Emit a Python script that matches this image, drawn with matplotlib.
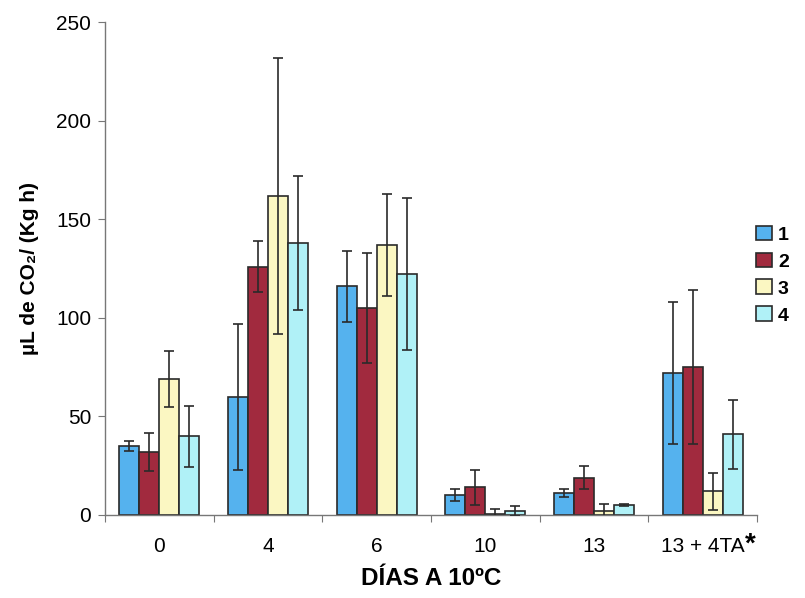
import matplotlib
matplotlib.use("Agg")
import matplotlib.pyplot as plt
import numpy as np

plt.rcParams["font.family"] = ["Liberation Sans", "DejaVu Sans"]

categories = ["0", "4", "6", "10", "13", "13 + 4TA"]
series_names = ["1", "2", "3", "4"]

means_1 = [35, 60, 116, 10, 11, 72]
means_2 = [32, 126, 105, 14, 19, 75]
means_3 = [69, 162, 137, 0.5, 2, 12]
means_4 = [40, 138, 122, 2, 5, 41]

err_1 = [2.5, 37, 18, 3, 2, 36]
err_2 = [9.5, 13, 28, 9, 6, 39]
err_3 = [14, 70, 26, 2.5, 3.5, 9.5]
err_4 = [15.5, 34, 38.5, 2.5, 0.5, 17.5]

colors = ["#55b2ee", "#a12a3e", "#fbf7c2", "#b0f1f7"]

means = [means_1, means_2, means_3, means_4]
errs = [err_1, err_2, err_3, err_4]

fig = plt.figure(figsize=(8.05, 5.98), dpi=100)
ax = fig.add_axes((0.1304, 0.1388, 0.81, 0.8244))

x = np.arange(len(categories))
width = 0.184
offsets = (np.arange(4) - 1.5) * width

for i in range(4):
    ax.bar(
        x + offsets[i],
        means[i],
        width,
        color=colors[i],
        edgecolor="#2a2a2a",
        linewidth=1.2,
        label=series_names[i],
        zorder=2,
    )
    ax.errorbar(
        x + offsets[i],
        means[i],
        yerr=errs[i],
        fmt="none",
        ecolor="#2a2a2a",
        elinewidth=1.2,
        capsize=3.5,
        capthick=1.2,
        zorder=3,
    )

ax.set_xlim(-0.5, len(categories) - 0.5)
ax.set_ylim(0, 250)
ax.set_yticks([0, 50, 100, 150, 200, 250])

# ticks at group boundaries, labels at group centres
ax.set_xticks(np.arange(len(categories) + 1) - 0.5)
ax.set_xticklabels([])
ax.set_xticks(x, minor=True)
ax.set_xticklabels(categories, minor=True)
ax.tick_params(axis="x", which="minor", length=0, pad=16, labelsize=15)
ax.tick_params(axis="x", which="major", length=5, color="#777777")
ax.tick_params(axis="y", length=5, color="#777777", labelsize=15, pad=5)

for side in ("top", "right"):
    ax.spines[side].set_visible(False)
for side in ("left", "bottom"):
    ax.spines[side].set_color("#777777")
    ax.spines[side].set_linewidth(1.0)

ax.set_ylabel("µL de CO₂/ (Kg h)", fontsize=15, fontweight="bold", labelpad=12)
ax.set_xlabel("DÍAS A 10ºC", fontsize=17.5, fontweight="bold", labelpad=8)

fig.legend(
    loc="center left",
    bbox_to_anchor=(0.918, 0.54),
    frameon=False,
    handlelength=0.8,
    handleheight=0.8,
    handletextpad=0.3,
    labelspacing=0.45,
    prop={"weight": "bold", "size": 14},
)

# asterisk raised just after the last category label
fig.canvas.draw()
last = ax.get_xticklabels(minor=True)[-1]
bb = last.get_window_extent()
fig.text(
    (bb.x1 + 0.5) / fig.bbox.width,
    (bb.y1 + 6) / fig.bbox.height,
    "*",
    fontsize=20,
    fontweight="bold",
    ha="left",
    va="top",
)

fig.savefig("out.png", dpi=100)
